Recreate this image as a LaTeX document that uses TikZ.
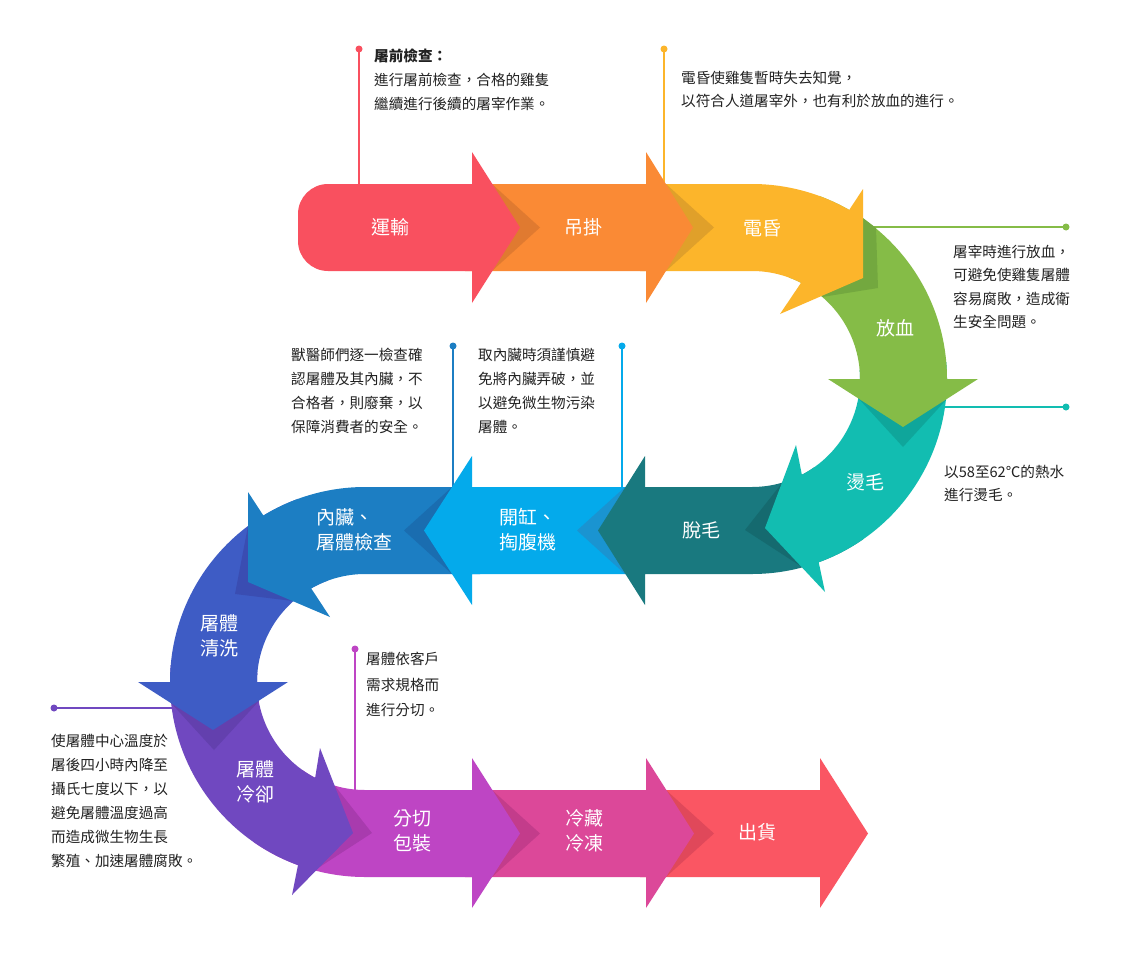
\documentclass[tikz,border=0pt]{standalone}
\usepackage{fontspec}
\setmainfont{Noto Sans CJK TC}
\usetikzlibrary{calc}
\definecolor{cRed}{HTML}{F9505F}
\definecolor{cOra}{HTML}{FA8A35}
\definecolor{cOraS}{HTML}{E07A30}
\definecolor{cYel}{HTML}{FCB52B}
\definecolor{cYelS}{HTML}{E0A02A}
\definecolor{cGrn}{HTML}{85BC47}
\definecolor{cGrnS}{HTML}{73A83F}
\definecolor{cTeal}{HTML}{12BDB1}
\definecolor{cTealS}{HTML}{0FA69B}
\definecolor{cDtl}{HTML}{19797F}
\definecolor{cDtlS}{HTML}{156A6F}
\definecolor{cLbl}{HTML}{04AAEB}
\definecolor{cLblS}{HTML}{1A94D1}
\definecolor{cBlu}{HTML}{1C7EC3}
\definecolor{cBluS}{HTML}{1A6DB0}
\definecolor{cInd}{HTML}{3E5CC5}
\definecolor{cIndS}{HTML}{3A4DB2}
\definecolor{cPur}{HTML}{7048C0}
\definecolor{cPurS}{HTML}{6340AE}
\definecolor{cMag}{HTML}{BE45C4}
\definecolor{cMagS}{HTML}{A83BAE}
\definecolor{cPink}{HTML}{DC4899}
\definecolor{cPinkS}{HTML}{C33C8B}
\definecolor{cRedB}{HTML}{FA5663}
\definecolor{cRedBS}{HTML}{E0485A}
\definecolor{txt}{HTML}{222222}
\tikzset{
  lbl/.style={text=white, font=\fontsize{19}{25}\selectfont, align=center, inner sep=0},
  note/.style={text=txt, font=\fontsize{14.6}{24}\selectfont, align=left, inner sep=0, anchor=north west},
  cline/.style={line width=2},
  dotn/.style={circle, inner sep=0, minimum size=7}
}
\begin{document}
\begin{tikzpicture}[x=1pt,y=-1pt]
\useasboundingbox (0,0) rectangle (1122,972);
\fill[white] (0,0) rectangle (1122,972);
\coordinate (CR) at (752,379);
\coordinate (CL) at (365,682);

% ---- callout lines (under the arrows)
\node[dotn,fill=cRed] (d1) at (359,49) {};
\coordinate (e1) at (359,200);
\draw[cline,cRed] (d1.center) -- (e1);
\node[dotn,fill=cYel] (d2) at (664,49) {};
\coordinate (e2) at (664,200);
\draw[cline,cYel] (d2.center) -- (e2);
\node[dotn,fill=cGrn] (d3) at (1066,227) {};
\coordinate (e3) at (850,227);
\draw[cline,cGrn] (d3.center) -- (e3);
\node[dotn,fill=cTeal] (d4) at (1066,407) {};
\coordinate (e4) at (925,407);
\draw[cline,cTeal] (d4.center) -- (e4);
\node[dotn,fill=cBlu] (d5) at (453,346) {};
\coordinate (e5) at (453,500);
\draw[cline,cBlu] (d5.center) -- (e5);
\node[dotn,fill=cLbl] (d6) at (622,346) {};
\coordinate (e6) at (622,500);
\draw[cline,cLbl] (d6.center) -- (e6);
\node[dotn,fill=cPur] (d7) at (54,708) {};
\coordinate (e7) at (195,708);
\draw[cline,cPur] (d7.center) -- (e7);
\node[dotn,fill=cMag] (d8) at (355,649) {};
\coordinate (e8) at (355,805);
\draw[cline,cMag] (d8.center) -- (e8);

% ---- arrows, last to first
% 出貨
\fill[cRedB] (640,790) -- (820,790) -- (820,758) -- (868,833.5) -- (820,908) -- (820,877) -- (640,877) -- cycle;
\fill[cRedBS] (646,790) -- (666,790) -- (714,833.5) -- (666,877) -- (646,877) -- cycle;
% 冷藏冷凍
\fill[cPink] (465,790) -- (646,790) -- (646,758) -- (694,833.5) -- (646,908) -- (646,877) -- (465,877) -- cycle;
\fill[cPinkS] (472,790) -- (492,790) -- (540,833.5) -- (492,877) -- (472,877) -- cycle;
% 分切包裝
\fill[cMag] ($(CL)+(-235:195)$) arc[start angle=-235,end angle=-270,radius=195] -- (472,877) -- (472,908) -- (520,833.5) -- (472,758) -- (472,790) -- (365,790) arc[start angle=-270,end angle=-235,radius=108] -- cycle;
\fill[cMagS] (315,870) -- (372,833) -- (335,786) -- (327,823) -- cycle;
% 屠體冷卻
\fill[cPur] ($(CL)+(-175:195)$) arc[start angle=-175,end angle=-249.9,radius=195] -- (292,895) -- (353,833) -- (320,748) -- ($(CL)+(-242.5:108)$) arc[start angle=-242.5,end angle=-175,radius=108] -- cycle;
\fill[cPurS] (170,682) -- (171,703) -- (214,750) -- (259,701) -- (257,682) -- cycle;
% 屠體清洗
\fill[cInd] ($(CL)+(-110:195)$) arc[start angle=-110,end angle=-180,radius=195] -- (138,682) -- (213,730) -- (288,682) -- (257,682) arc[start angle=-180,end angle=-110,radius=108] -- cycle;
\fill[cIndS] (248,526) -- (235,594) -- (293,601) -- (270,560) -- cycle;
% 內臟、屠體檢查
\fill[cBlu] (480,487) -- (365,487) arc[start angle=-90,end angle=-121.4,radius=195] -- (248,492) -- (248,582) -- (330,617) -- ($(CL)+(-119.9:108)$) arc[start angle=-119.9,end angle=-90,radius=108] -- (480,574) -- cycle;
\fill[cBluS] (472,487) -- (452,487) -- (404,530.5) -- (452,574) -- (472,574) -- cycle;
% 開缸、掏腹機
\fill[cLbl] (640,487) -- (472,487) -- (472,456) -- (424,530.5) -- (472,605) -- (472,574) -- (640,574) -- cycle;
\fill[cLblS] (645,487) -- (625,487) -- (577,530.5) -- (625,574) -- (645,574) -- cycle;
% 脫毛
\fill[cDtl] (645,487) -- (752,487) arc[start angle=90,end angle=55,radius=108] -- ($(CR)+(55:195)$) arc[start angle=55,end angle=90,radius=195] -- (645,574) -- (645,605) -- (598,530.5) -- (645,456) -- cycle;
\fill[cDtlS] (782,483) -- (745,530) -- (802,567) -- (790,520) -- cycle;
% 燙毛
\fill[cTeal] ($(CR)+(-5:195)$) arc[start angle=-5,end angle=70,radius=195] -- (825,592) -- (765,528) -- (796,445) -- ($(CR)+(62.5:108)$) arc[start angle=62.5,end angle=-5,radius=108] -- cycle;
\fill[cTealS] (947,379) -- (946,400) -- (903,447) -- (858,398) -- (860,379) -- cycle;
% 放血
\fill[cGrn] ($(CR)+(-70:195)$) arc[start angle=-70,end angle=0,radius=195] -- (978,379) -- (903,427) -- (828,379) -- (860,379) arc[start angle=0,end angle=-70,radius=108] -- cycle;
\fill[cGrnS] (863,218) -- (876,228) -- (878,288) -- (822,297) -- (840,250) -- cycle;
% 電昏
\fill[cYel] (640,184) -- (752,184) arc[start angle=-90,end angle=-60.1,radius=195] -- (863,189) -- (863,278) -- (780,314) -- ($(CR)+(-63:108)$) arc[start angle=-63,end angle=-90,radius=108] -- (640,271) -- cycle;
\fill[cYelS] (646,184) -- (666,184) -- (714,227.5) -- (666,271) -- (646,271) -- cycle;
% 吊掛
\fill[cOra] (465,184) -- (646,184) -- (646,152) -- (693,227.5) -- (646,303) -- (646,271) -- (465,271) -- cycle;
\fill[cOraS] (472,184) -- (492,184) -- (540,227.5) -- (492,271) -- (472,271) -- cycle;
% 運輸
\fill[cRed] (472,184) -- (328,184) arc[start angle=-90,end angle=-180,radius=30] -- (298,241) arc[start angle=180,end angle=90,radius=30] -- (472,271) -- (472,303) -- (520,227.5) -- (472,152) -- cycle;

% ---- arrow labels
\node[lbl] (l1) at (390,227) {運輸};
\node[lbl] (l2) at (583,227) {吊掛};
\node[lbl] (l3) at (762,228) {電昏};
\node[lbl] (l4) at (895,328) {放血};
\node[lbl] (l5) at (865,482) {燙毛};
\node[lbl] (l6) at (701,530) {脫毛};
\node[lbl,align=left,anchor=west] (l7) at (499,530) {開缸、\\掏腹機};
\node[lbl,align=left,anchor=west] (l8) at (316,530) {內臟、\\屠體檢查};
\node[lbl] (l9) at (219,636) {屠體\\清洗};
\node[lbl] (l10) at (255,782) {屠體\\冷卻};
\node[lbl] (l11) at (412,831) {分切\\包裝};
\node[lbl] (l12) at (584,831) {冷藏\\冷凍};
\node[lbl] (l13) at (757,832) {出貨};

% ---- notes
\node[note,font=\fontsize{14.6}{24}\selectfont] (t1) at (374,49) {\textbf{屠前檢查：}\\進行屠前檢查，合格的雞隻\\繼續進行後續的屠宰作業。};
\node[note,font=\fontsize{14.6}{23}\selectfont] (t2) at (681,71) {電昏使雞隻暫時失去知覺，\\以符合人道屠宰外，也有利於放血的進行。};
\node[note,font=\fontsize{14.6}{23.4}\selectfont] (t3) at (953,245) {屠宰時進行放血，\\可避免使雞隻屠體\\容易腐敗，造成衛\\生安全問題。};
\node[note,font=\fontsize{14.6}{23}\selectfont] (t4) at (944,465) {以58至62℃的熱水\\進行燙毛。};
\node[note] (t5) at (291,348) {獸醫師們逐一檢查確\\認屠體及其內臟，不\\合格者，則廢棄，以\\保障消費者的安全。};
\node[note] (t6) at (478,348) {取內臟時須謹慎避\\免將內臟弄破，並\\以避免微生物污染\\屠體。};
\node[note] (t7) at (51,734) {使屠體中心溫度於\\屠後四小時內降至\\攝氏七度以下，以\\避免屠體溫度過高\\而造成微生物生長\\繁殖、加速屠體腐敗。};
\node[note,font=\fontsize{14.6}{25.5}\selectfont] (t8) at (366,652) {屠體依客戶\\需求規格而\\進行分切。};
\end{tikzpicture}
\end{document}
